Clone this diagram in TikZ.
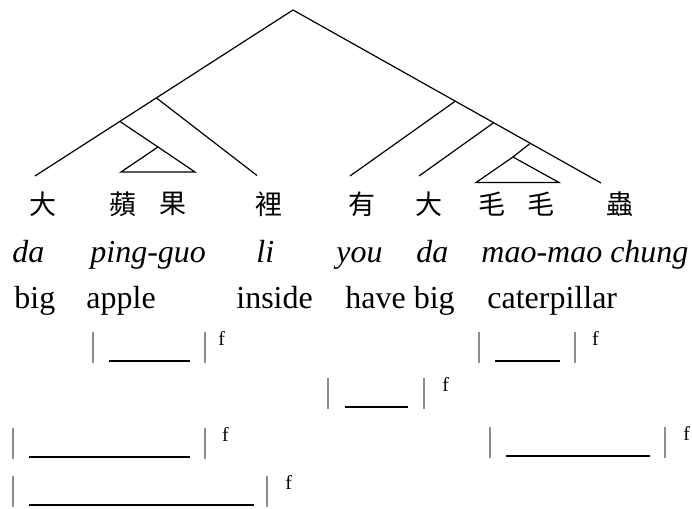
\documentclass[tikz,border=0pt]{standalone}
\usepackage{fontspec}
\setmainfont{Liberation Serif}
\newfontfamily\cjk{Noto Sans CJK TC}
\tikzset{
  zh/.style={font=\cjk\fontsize{13.5}{13.5}\selectfont, inner sep=0pt, anchor=center},
  itw/.style={font=\itshape\fontsize{16}{16}\selectfont, inner sep=0pt, anchor=base west},
  rmw/.style={font=\fontsize{16}{16}\selectfont, inner sep=0pt, anchor=base west},
  fmark/.style={font=\fontsize{10}{10}\selectfont, inner sep=0pt, anchor=base west},
  branch/.style={draw=black, line width=0.6pt},
  barline/.style={draw=black!45, line width=0.9pt},
  uline/.style={draw=black, line width=1pt}
}
% #1 name, #2 left bar x, #3 underline x1, #4 underline x2, #5 right bar x, #6 f x, #7 top y
\newcommand\slotrow[7]{%
  \coordinate (#1-lt) at (#2,#7);
  \coordinate (#1-lb) at (#2,#7+31);
  \coordinate (#1-rt) at (#5,#7);
  \coordinate (#1-rb) at (#5,#7+31);
  \coordinate (#1-ua) at (#3,#7+28.5);
  \coordinate (#1-ub) at (#4,#7+28.5);
  \draw[barline] (#1-lt) -- (#1-lb);
  \draw[barline] (#1-rt) -- (#1-rb);
  \draw[uline] (#1-ua) -- (#1-ub);
  \node[fmark] (#1-f) at (#6,#7+13.5) {f};
}
\begin{document}
\begin{tikzpicture}[x=0.5pt,y=-0.5pt]
\useasboundingbox (0,0) rectangle (692,509);
% tree points
\coordinate (R) at (293,10);
\coordinate (L1) at (35,176);
\coordinate (A) at (156.5,98);
\coordinate (Aend) at (257,175.5);
\coordinate (B) at (120,121.5);
\coordinate (T1) at (158,147);
\coordinate (T1l) at (121,172);
\coordinate (T1r) at (195,172);
\coordinate (RR) at (601,183);
\coordinate (C) at (455.5,101);
\coordinate (Cend) at (350,176);
\coordinate (D) at (494,122.5);
\coordinate (Dend) at (419,176);
\coordinate (E) at (530,143.5);
\coordinate (T2) at (513,157);
\coordinate (T2l) at (476,182.5);
\coordinate (T2r) at (559,182.5);
\draw[branch] (L1) -- (R) -- (RR);
\draw[branch] (A) -- (Aend);
\draw[branch] (B) -- (T1);
\draw[branch] (T1) -- (T1l) -- (T1r) -- cycle;
\draw[branch] (C) -- (Cend);
\draw[branch] (D) -- (Dend);
\draw[branch] (E) -- (T2);
\draw[branch] (T2) -- (T2l) -- (T2r) -- cycle;
% Chinese row
\node[zh] (z1) at (43,204) {大};
\node[zh] (z2) at (123,204) {蘋};
\node[zh] (z3) at (172.5,204) {果};
\node[zh] (z4) at (269,204) {裡};
\node[zh] (z5) at (362,204) {有};
\node[zh] (z6) at (429,204) {大};
\node[zh] (z7) at (492,204) {毛};
\node[zh] (z8) at (541,204) {毛};
\node[zh] (z9) at (620,204) {蟲};
% romanisation
\node[itw] (p1) at (12,262) {da};
\node[itw] (p2) at (90,262) {ping-guo};
\node[itw] (p3) at (256,262) {li};
\node[itw] (p4) at (336,262) {you};
\node[itw] (p5) at (416,262) {da};
\node[itw] (p6) at (481,262) {mao-mao chung};
% gloss
\node[rmw] (g1) at (14,308) {big};
\node[rmw] (g2) at (86,308) {apple};
\node[rmw] (g3) at (236,308) {inside};
\node[rmw] (g4) at (345,308) {have big};
\node[rmw] (g6) at (487,308) {caterpillar};
% slot rows
\slotrow{ra}{93.3}{109.3}{190}{205.3}{218}{332}
\slotrow{rb}{479.3}{495}{560}{575.3}{591.7}{332}
\slotrow{rc}{328}{345}{408}{424}{442}{378}
\slotrow{rd}{12.7}{29}{190}{204.7}{221.7}{428}
\slotrow{re}{490}{506}{650}{665.3}{683}{427}
\slotrow{rf}{12.7}{29}{254}{266.7}{285}{476}
\end{tikzpicture}
\end{document}
